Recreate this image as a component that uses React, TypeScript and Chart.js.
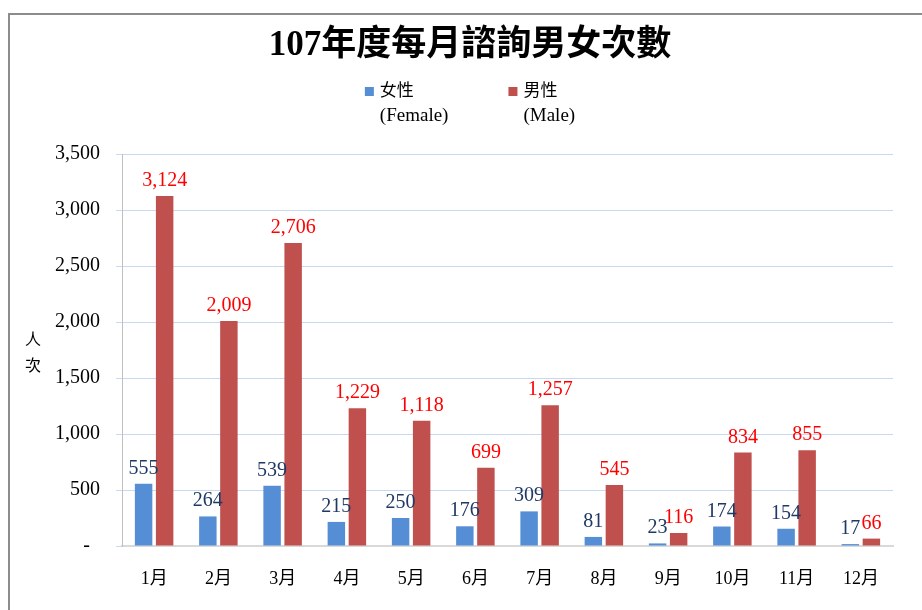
import React, { useEffect, useRef } from 'react';
import { Chart, registerables } from 'chart.js';

Chart.register(...registerables);

const categories = ['1月', '2月', '3月', '4月', '5月', '6月', '7月', '8月', '9月', '10月', '11月', '12月'];
const femaleValues = [555, 264, 539, 215, 250, 176, 309, 81, 23, 174, 154, 17];
const maleValues = [3124, 2009, 2706, 1229, 1118, 699, 1257, 545, 116, 834, 855, 66];
const seriesNames = ['女性', '男性'];
const seriesSubNames = ['(Female)', '(Male)'];
const seriesColors = ['#558ED5', '#C0504D'];
const labelColors = ['#1F3864', '#FF0000'];
const yTickValues = [0, 500, 1000, 1500, 2000, 2500, 3000, 3500];
const chartTitle = '107年度每月諮詢男女次數';
const yAxisTitle = ['人', '次'];

const SERIF = "'Liberation Serif', 'Noto Sans CJK TC', serif";
const fmt = (v: number) => v.toLocaleString('en-US');

const decorPlugin = {
  id: 'decor',
  beforeDraw(chart: any) {
    const ctx = chart.ctx as CanvasRenderingContext2D;
    ctx.save();
    ctx.fillStyle = '#ffffff';
    ctx.fillRect(0, 0, chart.width, chart.height);
    ctx.strokeStyle = '#8c8c8c';
    ctx.lineWidth = 2;
    ctx.beginPath();
    ctx.moveTo(9, chart.height + 2);
    ctx.lineTo(9, 14);
    ctx.lineTo(chart.width + 2, 14);
    ctx.stroke();
    ctx.restore();
  },
  afterDatasetsDraw(chart: any) {
    const ctx = chart.ctx as CanvasRenderingContext2D;
    ctx.save();
    ctx.font = `20px ${SERIF}`;
    ctx.textAlign = 'center';
    ctx.textBaseline = 'alphabetic';
    chart.data.datasets.forEach((ds: any, di: number) => {
      const meta = chart.getDatasetMeta(di);
      ctx.fillStyle = labelColors[di];
      meta.data.forEach((el: any, i: number) => {
        ctx.fillText(fmt(ds.data[i]), el.x, el.y - 10);
      });
    });
    ctx.restore();
  },
  afterDraw(chart: any) {
    const ctx = chart.ctx as CanvasRenderingContext2D;
    const cx = 470;
    ctx.save();
    // Title
    ctx.fillStyle = '#000000';
    ctx.font = `bold 35px ${SERIF}`;
    ctx.textAlign = 'center';
    ctx.textBaseline = 'middle';
    ctx.fillText(chartTitle, cx, 46);

    // Legend
    const mainFont = `17px ${SERIF}`;
    const subFont = `19px ${SERIF}`;
    const box = 9;
    const gapText = 6;
    const spacing = 60;
    const widths = seriesNames.map((n, i) => {
      ctx.font = mainFont;
      const w1 = ctx.measureText(n).width;
      ctx.font = subFont;
      const w2 = ctx.measureText(seriesSubNames[i]).width;
      return box + gapText + Math.max(w1, w2);
    });
    const total = widths.reduce((a, b) => a + b, 0) + spacing * (widths.length - 1);
    let x = cx - total / 2;
    ctx.textAlign = 'left';
    seriesNames.forEach((n, i) => {
      ctx.fillStyle = seriesColors[i];
      ctx.fillRect(x, 87, box, box);
      ctx.fillStyle = '#000000';
      ctx.font = mainFont;
      ctx.fillText(n, x + box + gapText, 92);
      ctx.font = subFont;
      ctx.fillText(seriesSubNames[i], x + box + gapText, 116);
      x += widths[i] + spacing;
    });

    // Y axis title (vertical stacked characters)
    ctx.font = `16px ${SERIF}`;
    ctx.textAlign = 'center';
    yAxisTitle.forEach((ch, i) => {
      ctx.fillText(ch, 33, 341 + i * 26);
    });
    ctx.restore();
  },
};

export default function App() {
  const canvasRef = useRef<HTMLCanvasElement | null>(null);

  useEffect(() => {
    const canvas = canvasRef.current;
    if (!canvas) return;
    const chart = new Chart(canvas, {
      type: 'bar',
      data: {
        labels: categories,
        datasets: [
          {
            label: seriesNames[0],
            data: femaleValues,
            backgroundColor: seriesColors[0],
            borderWidth: 0,
            categoryPercentage: 0.655,
            barPercentage: 0.83,
          },
          {
            label: seriesNames[1],
            data: maleValues,
            backgroundColor: seriesColors[1],
            borderWidth: 0,
            categoryPercentage: 0.655,
            barPercentage: 0.83,
          },
        ],
      },
      options: {
        responsive: false,
        animation: false,
        layout: { padding: { top: 154, left: 0, right: 29, bottom: 0 } },
        plugins: {
          legend: { display: false },
          title: { display: false },
          tooltip: { enabled: false },
        },
        scales: {
          x: {
            grid: { display: false },
            border: { display: true, color: '#D9D9D9', width: 2 },
            ticks: {
              color: '#000000',
              font: { family: SERIF, size: 18 },
              padding: 14,
              maxRotation: 0,
              autoSkip: false,
            },
            afterFit: (scale: any) => {
              scale.height = 64;
            },
          },
          y: {
            min: 0,
            max: 3500,
            afterBuildTicks: (scale: any) => {
              scale.ticks = yTickValues.map((v) => ({ value: v }));
            },
            grid: { color: '#C6D9F1', lineWidth: 1, tickLength: 6 },
            border: { display: true, color: '#BFBFBF', width: 1 },
            ticks: {
              color: '#000000',
              font: { family: SERIF, size: 20 },
              padding: 16,
              callback: (v: any) => (Number(v) === 0 ? '-  ' : fmt(Number(v))),
            },
            afterFit: (scale: any) => {
              scale.width = 122;
            },
          },
        },
      },
      plugins: [decorPlugin],
    });
    return () => chart.destroy();
  }, []);

  return (
    <div style={{ position: 'absolute', left: 0, top: 0, width: 922, height: 610 }}>
      <canvas ref={canvasRef} width={922} height={610} style={{ display: 'block', width: 922, height: 610 }} />
    </div>
  );
}
